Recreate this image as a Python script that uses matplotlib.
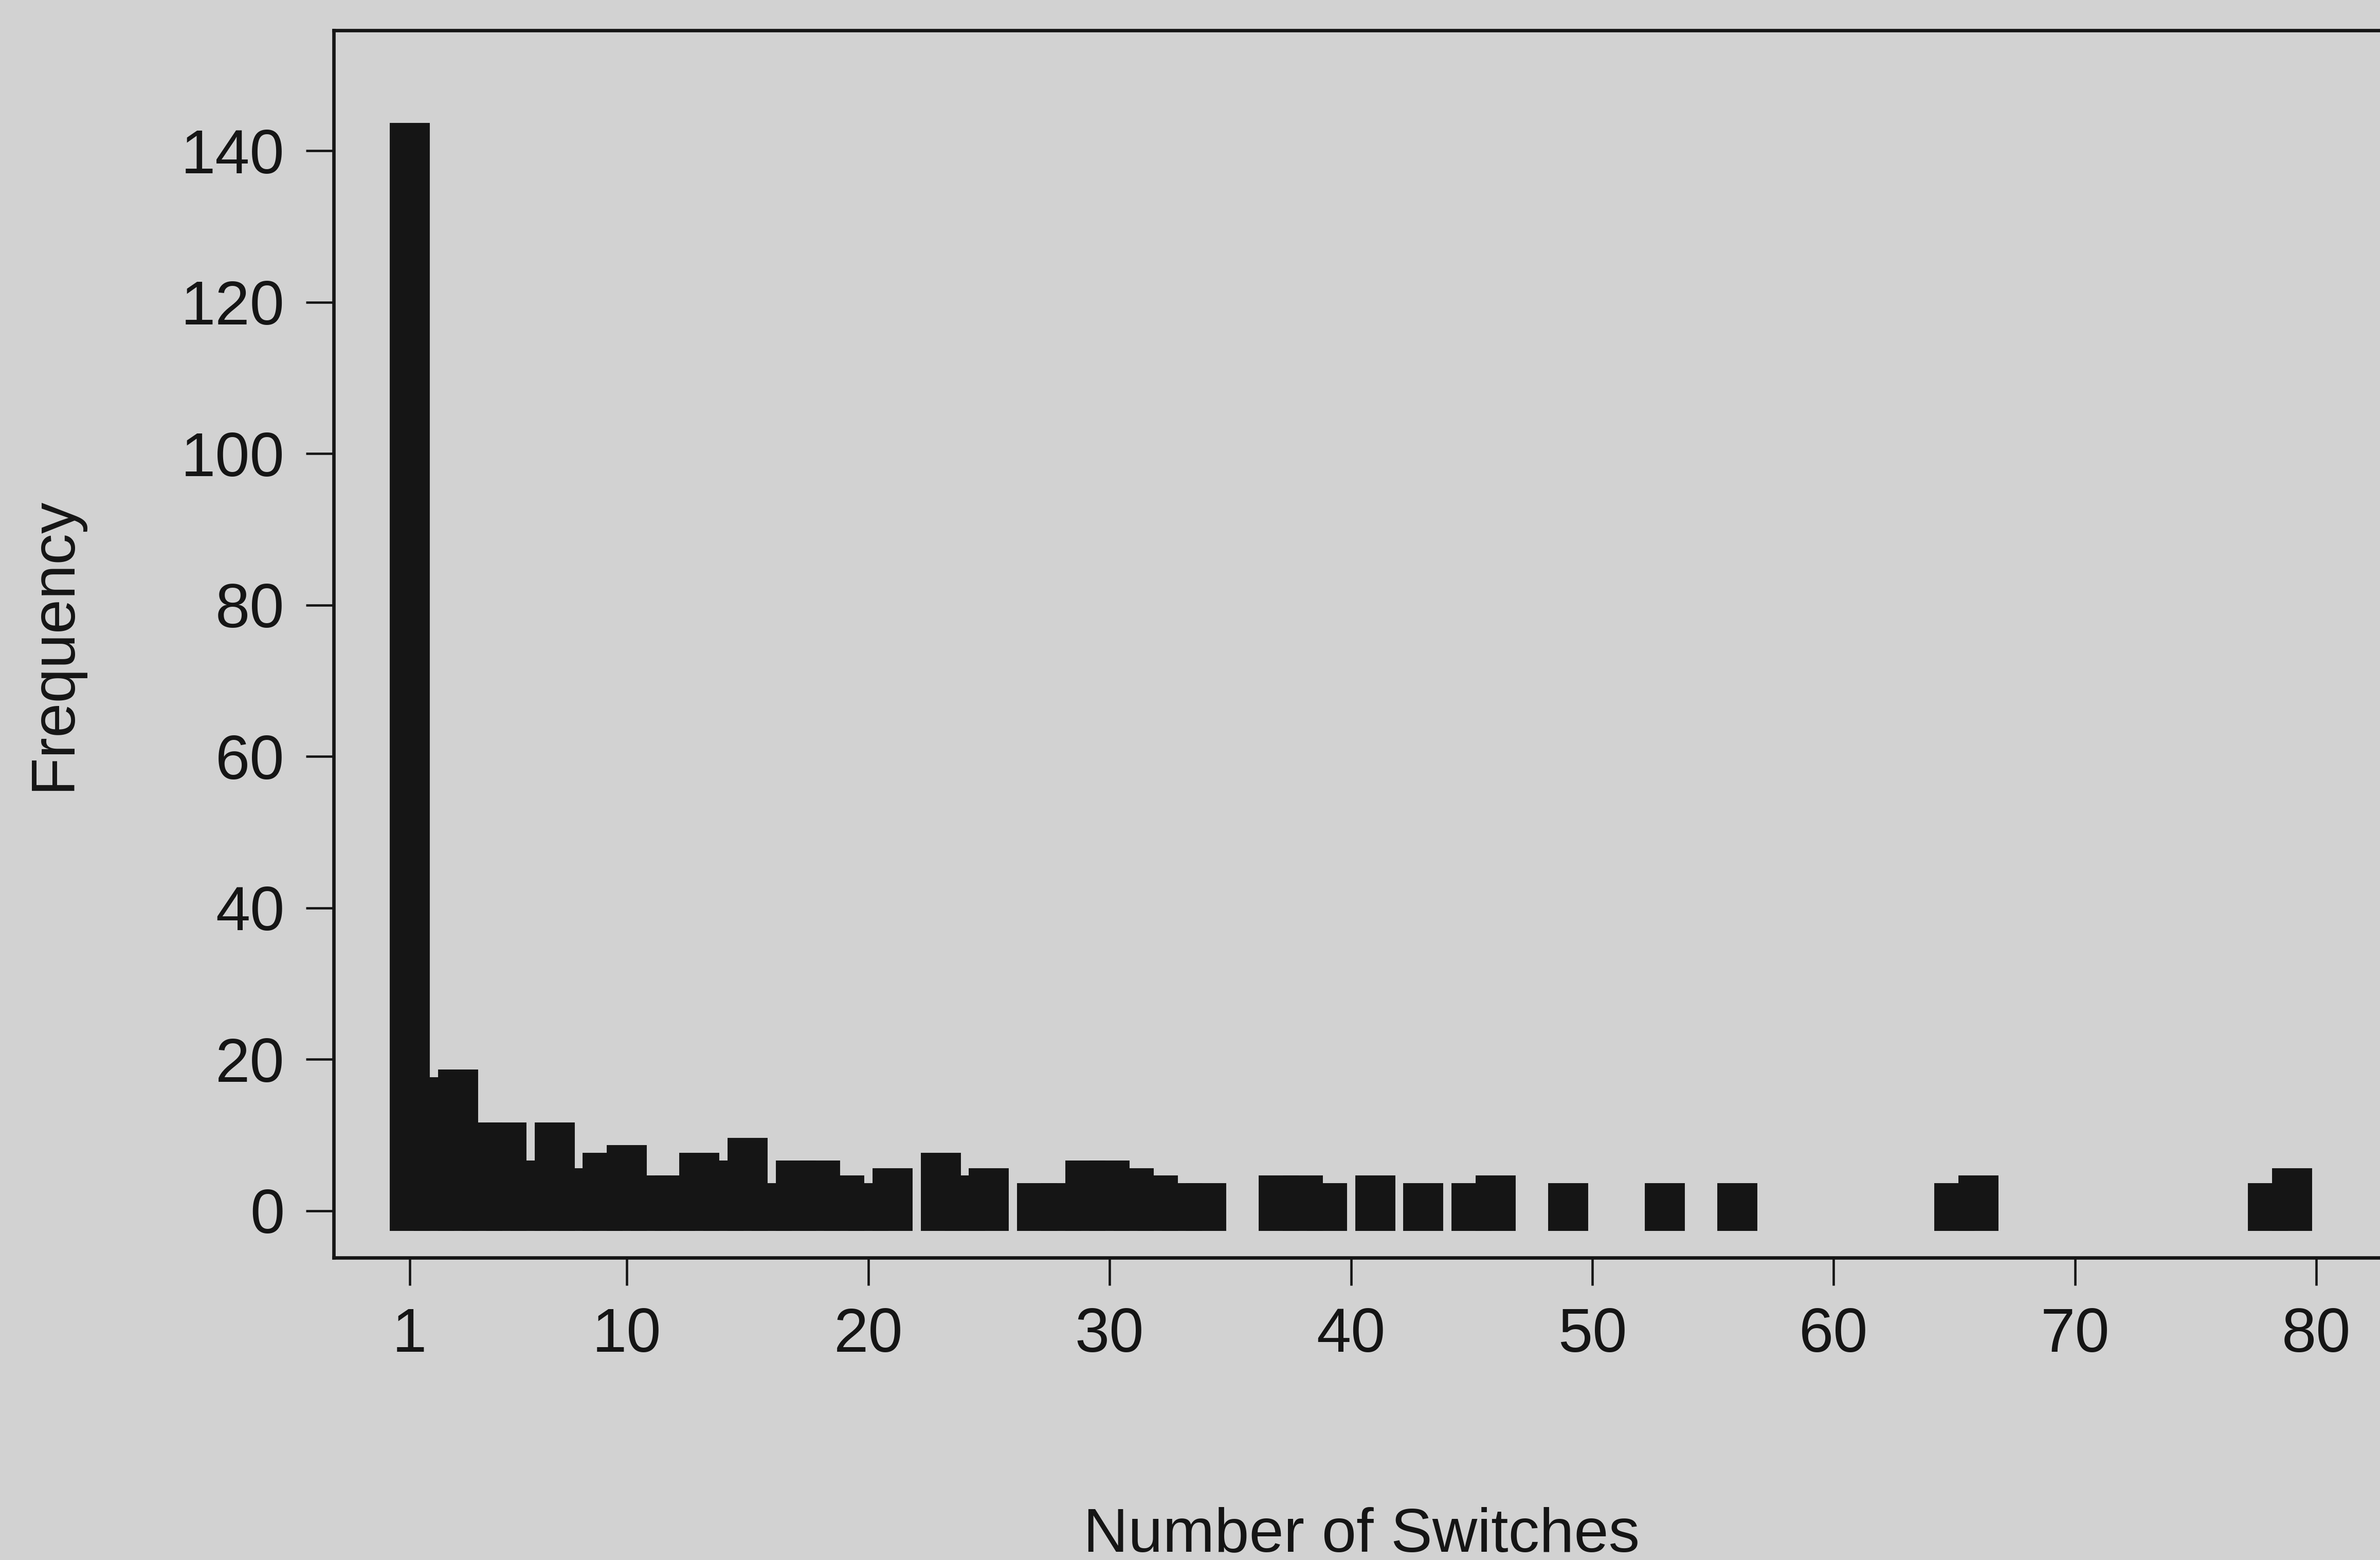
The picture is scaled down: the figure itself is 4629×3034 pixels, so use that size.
import matplotlib
matplotlib.use("Agg")
from matplotlib import pyplot as plt

plt.rcParams['font.family'] = ['Liberation Sans', 'DejaVu Sans']

# number of switches -> how many subjects made that many switches (non-zero only)
switches = [1, 2, 3, 4, 5, 6, 7, 8, 9, 10, 11, 12, 13, 14, 15, 16, 17, 18, 19, 20, 21,
            23, 24, 25, 27, 28, 29, 30, 31, 32, 33, 34, 37, 38, 39, 41, 43, 45, 46,
            49, 53, 56, 65, 66, 78, 79]
frequency = [141, 15, 16, 9, 9, 4, 9, 3, 5, 6, 2, 2, 5, 4, 7, 1, 4, 4, 2, 1, 3,
             5, 2, 3, 1, 1, 4, 4, 3, 2, 1, 1, 2, 2, 1, 2, 1, 1, 2,
             1, 1, 1, 1, 2, 1, 3]

x_ticks = [1, 10, 20, 30, 40, 50, 60, 70, 80]
y_ticks = [0, 20, 40, 60, 80, 100, 120, 140]

BG = '#d2d2d2'
INK = '#151515'
DPI = 300

fig = plt.figure(figsize=(4629 / DPI, 3034 / DPI), dpi=DPI, facecolor=BG)
ax = fig.add_axes([0.1402, 0.1938, 0.8777, 0.7868], facecolor=BG)

# heavy spikes with square caps, so each bar spills past its ends like the old stat-package output
ax.vlines(switches, 0, frequency, colors=INK, linewidth=18.7,
          capstyle='projecting')

ax.set_xlim(-2.15, 84.4)
ax.set_ylim(-6.2, 155.9)
ax.set_xticks(x_ticks)
ax.set_yticks(y_ticks)

for side in ['left', 'bottom', 'top', 'right']:
    ax.spines[side].set_linewidth(1.6)
    ax.spines[side].set_color(INK)

ax.tick_params(axis='both', length=13, width=1.1, color=INK, labelcolor=INK,
               labelsize=29, pad=10)

ax.set_xlabel('Number of Switches', fontsize=29, color=INK)
ax.set_ylabel('Frequency', fontsize=29, color=INK)
ax.xaxis.set_label_coords(0.492, -0.203)
ax.yaxis.set_label_coords(-0.12, 0.5)

fig.savefig('out.png', dpi=DPI, facecolor=BG)
